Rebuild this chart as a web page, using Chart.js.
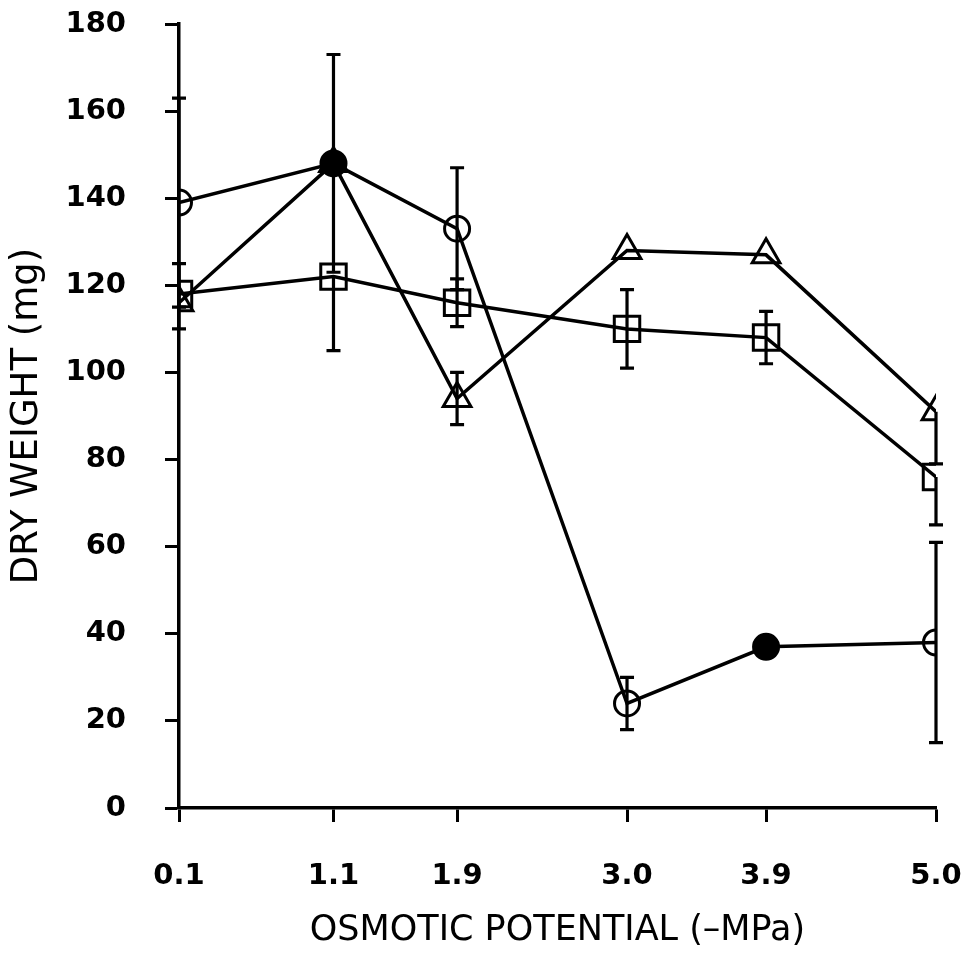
<!DOCTYPE html>
<html>
<head>
<meta charset="utf-8">
<title>Dry weight vs osmotic potential</title>
<script src="https://cdn.jsdelivr.net/npm/chart.js@4.4.1/dist/chart.umd.min.js"></script>
<style>
  html, body { margin: 0; padding: 0; background: #fff; }
  #chart { display: block; }
</style>
</head>
<body>
<canvas id="chart" width="967" height="955"></canvas>
<script>
(function () {
    'use strict';

    // osmotic potential treatments (-MPa)
    var potentials = [0.1, 1.1, 1.9, 3.0, 3.9, 5.0];

    // mean dry weight (mg) per series
    var circleMeans   = [139, 148, 133, 24, 37, 38];
    var triangleMeans = [116, 148, 94, 128, 127, 91];
    var squareMeans   = [118, 122, 116, 110, 108, 76];

    // error bar extents above / below each mean (mg), 0 = not drawn
    var circleErrUp     = [24, 25, 14, 6, 0, 23];
    var circleErrDown   = [24, 25, 14, 6, 0, 23];
    var triangleErrUp   = [0, 0, 6, 0, 0, 0];
    var triangleErrDown = [0, 0, 6, 0, 0, 12];
    var squareErrUp     = [7, 0, 5.5, 9, 6, 0];
    var squareErrDown   = [8, 17, 5.5, 9, 6, 11];

    var yTicks = [0, 20, 40, 60, 80, 100, 120, 140, 160, 180];

    var INK = '#000';
    var CLEAR = 'rgba(0,0,0,0)';
    var FONT = "'DejaVu Sans', 'Liberation Sans', Arial, sans-serif";

    function toPoints(means) {
        var pts = [];
        for (var i = 0; i < potentials.length; i++) {
            pts.push({ x: potentials[i], y: means[i] });
        }
        return pts;
    }

    function makeSeries(label, means, up, down, style, radius, fills) {
        return {
            label: label,
            data: toPoints(means),
            errUp: up,
            errDown: down,
            borderColor: INK,
            borderWidth: 3.5,
            tension: 0,
            fill: false,
            pointStyle: style,
            pointRadius: radius,
            pointBorderWidth: 3,
            pointBorderColor: INK,
            pointBackgroundColor: fills
        };
    }

    // vertical error bars with short caps
    var errorBars = {
        id: 'errorBars',
        afterDatasetsDraw: function (chart) {
            var c = chart.ctx;
            var xs = chart.scales.x;
            var ys = chart.scales.y;
            var capHalf = 7;
            c.save();
            c.strokeStyle = INK;
            c.lineWidth = 3.2;
            c.lineCap = 'butt';
            chart.data.datasets.forEach(function (ds) {
                ds.data.forEach(function (p, i) {
                    var up = ds.errUp[i] || 0;
                    var down = ds.errDown[i] || 0;
                    if (!up && !down) return;
                    var px = xs.getPixelForValue(p.x);
                    var yTop = ys.getPixelForValue(p.y + up);
                    var yBot = ys.getPixelForValue(p.y - down);
                    c.beginPath();
                    c.moveTo(px, yTop);
                    c.lineTo(px, yBot);
                    if (up) {
                        c.moveTo(px - capHalf, yTop);
                        c.lineTo(px + capHalf, yTop);
                    }
                    if (down) {
                        c.moveTo(px - capHalf, yBot);
                        c.lineTo(px + capHalf, yBot);
                    }
                    c.stroke();
                });
            });
            c.restore();
        }
    };

    var ctx = document.getElementById('chart').getContext('2d');

    new Chart(ctx, {
        type: 'line',
        data: {
            datasets: [
                makeSeries('circle', circleMeans, circleErrUp, circleErrDown, 'circle', 12.5,
                    [CLEAR, INK, CLEAR, CLEAR, INK, CLEAR]),
                makeSeries('triangle', triangleMeans, triangleErrUp, triangleErrDown, 'triangle', 16,
                    CLEAR),
                makeSeries('square', squareMeans, squareErrUp, squareErrDown, 'rect', 18,
                    CLEAR)
            ]
        },
        options: {
            responsive: false,
            animation: false,
            layout: { padding: { top: 24, right: 31, bottom: 0, left: 0 } },
            plugins: {
                legend: { display: false },
                tooltip: { enabled: false }
            },
            scales: {
                x: {
                    type: 'linear',
                    min: potentials[0],
                    max: potentials[potentials.length - 1],
                    afterBuildTicks: function (scale) {
                        scale.ticks = potentials.map(function (v) { return { value: v }; });
                    },
                    afterFit: function (scale) {
                        scale.height = 147;
                        scale.paddingLeft = 0;
                        scale.paddingRight = 0;
                    },
                    ticks: {
                        autoSkip: false,
                        maxRotation: 0,
                        color: INK,
                        padding: 37,
                        font: { family: FONT, size: 29, weight: 'bold' },
                        callback: function (v) { return Number(v).toFixed(1); }
                    },
                    grid: {
                        drawOnChartArea: false,
                        drawTicks: true,
                        tickLength: 14,
                        tickWidth: 3,
                        tickColor: INK
                    },
                    border: { display: true, color: INK, width: 3.5 },
                    title: {
                        display: true,
                        text: 'OSMOTIC POTENTIAL (–MPa)',
                        color: INK,
                        font: { family: FONT, size: 35 },
                        padding: { top: 0, bottom: 3 }
                    }
                },
                y: {
                    min: 0,
                    max: 180,
                    afterBuildTicks: function (scale) {
                        scale.ticks = yTicks.map(function (v) { return { value: v }; });
                    },
                    afterFit: function (scale) {
                        scale.width = 179;
                        scale.paddingTop = 0;
                        scale.paddingBottom = 0;
                    },
                    ticks: {
                        color: INK,
                        padding: 39,
                        font: { family: FONT, size: 29, weight: 'bold' }
                    },
                    grid: {
                        drawOnChartArea: false,
                        drawTicks: true,
                        tickLength: 14,
                        tickWidth: 3,
                        tickColor: INK
                    },
                    border: { display: true, color: INK, width: 3.5 },
                    title: {
                        display: true,
                        text: 'DRY WEIGHT (mg)',
                        color: INK,
                        font: { family: FONT, size: 37 },
                        padding: { top: 5, bottom: 0 }
                    }
                }
            }
        },
        plugins: [errorBars]
    });
})();
</script>
</body>
</html>
